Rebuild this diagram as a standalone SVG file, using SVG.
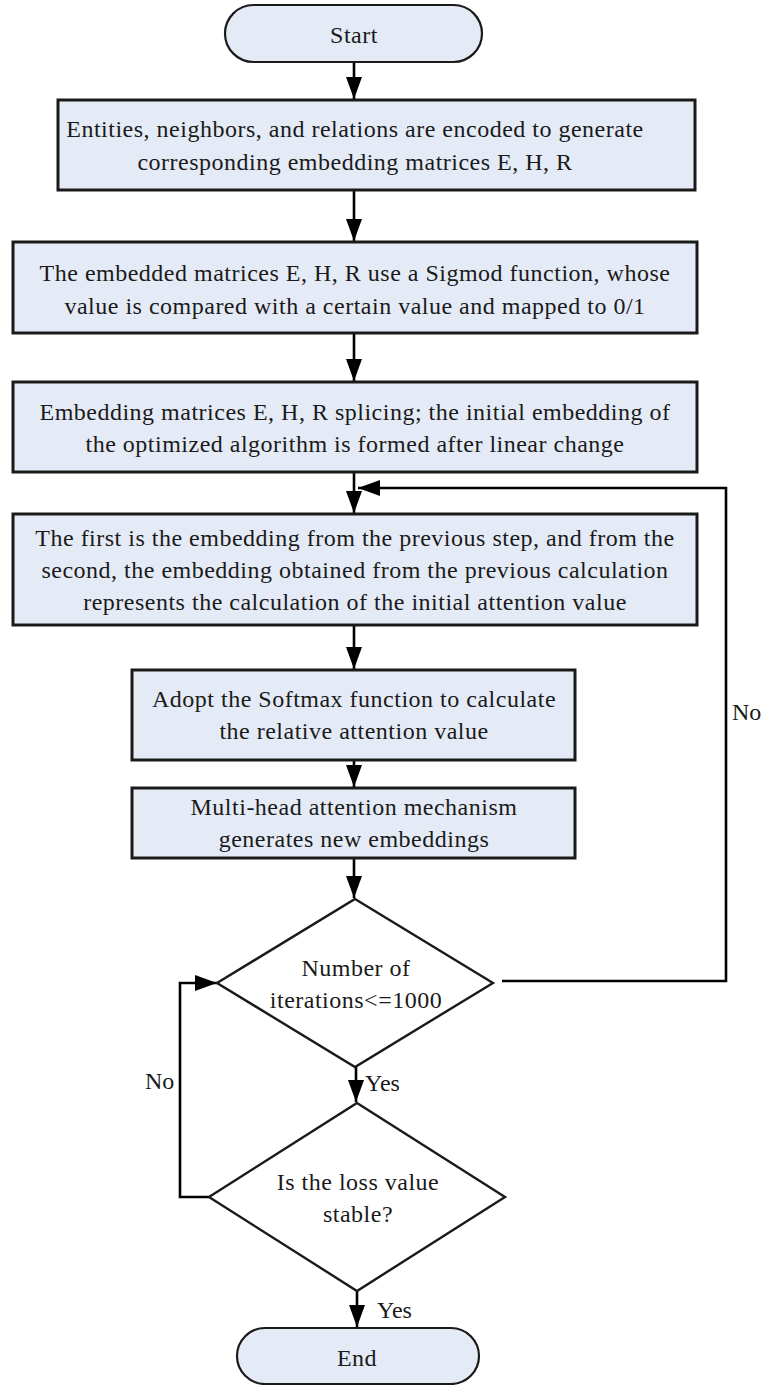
<svg xmlns="http://www.w3.org/2000/svg" width="761" height="1385" viewBox="0 0 761 1385">
<style>
.box{fill:#e5ebf6;stroke:#1a1a1a;stroke-width:3}
.term{fill:#e5ebf6;stroke:#1a1a1a;stroke-width:2.2}
.dia{fill:#ffffff;stroke:#1a1a1a;stroke-width:2.4}
.t{font-family:"Liberation Serif","Times New Roman",serif;font-size:24px;fill:#1a1a1a;text-anchor:middle;letter-spacing:0.5px}
.lbl{font-family:"Liberation Serif","Times New Roman",serif;font-size:24px;fill:#1a1a1a}
.c{fill:none;stroke:#000;stroke-width:2.6}
</style>
<defs>
<marker id="ah" viewBox="0 0 22 16" refX="22" refY="8" markerWidth="22" markerHeight="16" markerUnits="userSpaceOnUse" orient="auto">
<path d="M0,0 L22,8 L0,16 Z" fill="#000"/>
</marker>
</defs>
<rect width="761" height="1385" fill="#fff"/>
<g id="connectors">
<line class="c" x1="354" y1="62" x2="354" y2="99" marker-end="url(#ah)"/>
<line class="c" x1="354" y1="190" x2="354" y2="241" marker-end="url(#ah)"/>
<line class="c" x1="354" y1="333" x2="354" y2="381" marker-end="url(#ah)"/>
<line class="c" x1="354" y1="472" x2="354" y2="513" marker-end="url(#ah)"/>
<line class="c" x1="354" y1="625" x2="354" y2="669" marker-end="url(#ah)"/>
<line class="c" x1="354" y1="760" x2="354" y2="787" marker-end="url(#ah)"/>
<line class="c" x1="354" y1="858" x2="354" y2="898" marker-end="url(#ah)"/>
<line class="c" x1="356" y1="1067" x2="356" y2="1102" marker-end="url(#ah)"/>
<line class="c" x1="357" y1="1291" x2="357" y2="1327" marker-end="url(#ah)"/>
<polyline class="c" points="502,981 726,981 726,488 358,488" marker-end="url(#ah)"/>
<polyline class="c" points="209,1197 180,1197 180,983 217,983" marker-end="url(#ah)"/>
<text class="lbl" x="732" y="720">No</text>
<text class="lbl" x="145" y="1089">No</text>
<text class="lbl" x="365" y="1091">Yes</text>
<text class="lbl" x="377" y="1318">Yes</text>
</g>
<g id="start">
<rect class="term" x="225" y="5" width="257" height="57" rx="28.5"/>
<text class="t" x="354" y="43">Start</text>
</g>
<g id="encode">
<rect class="box" x="58" y="100" width="637" height="90"/>
<text class="t" x="355" y="137">Entities, neighbors, and relations are encoded to generate</text>
<text class="t" x="355" y="170">corresponding embedding matrices E, H, R</text>
</g>
<g id="sigmoid">
<rect class="box" x="13" y="242" width="684" height="91"/>
<text class="t" x="355" y="281">The embedded matrices E, H, R use a Sigmod function, whose</text>
<text class="t" x="355" y="314">value is compared with a certain value and mapped to 0/1</text>
</g>
<g id="splice">
<rect class="box" x="13" y="382" width="684" height="90"/>
<text class="t" x="355" y="420">Embedding matrices E, H, R splicing; the initial embedding of</text>
<text class="t" x="355" y="452">the optimized algorithm is formed after linear change</text>
</g>
<g id="initial-attention">
<rect class="box" x="13" y="514" width="684" height="111"/>
<text class="t" x="355" y="546">The first is the embedding from the previous step, and from the</text>
<text class="t" x="355" y="578">second, the embedding obtained from the previous calculation</text>
<text class="t" x="355" y="610">represents the calculation of the initial attention value</text>
</g>
<g id="softmax">
<rect class="box" x="132" y="670" width="443" height="90"/>
<text class="t" x="354" y="707">Adopt the Softmax function to calculate</text>
<text class="t" x="354" y="739">the relative attention value</text>
</g>
<g id="multihead">
<rect class="box" x="132" y="788" width="443" height="70"/>
<text class="t" x="354" y="815">Multi-head attention mechanism</text>
<text class="t" x="354" y="847">generates new embeddings</text>
</g>
<g id="iterations">
<polygon class="dia" points="355,899 493,983 355,1067 217,983"/>
<text class="t" x="356" y="976">Number of</text>
<text class="t" x="356" y="1008">iterations&lt;=1000</text>
</g>
<g id="loss">
<polygon class="dia" points="357,1103 505,1197 357,1291 209,1197"/>
<text class="t" x="358" y="1190">Is the loss value</text>
<text class="t" x="358" y="1222">stable?</text>
</g>
<g id="end">
<rect class="term" x="237" y="1328" width="242" height="56" rx="28"/>
<text class="t" x="357" y="1366">End</text>
</g>
</svg>
